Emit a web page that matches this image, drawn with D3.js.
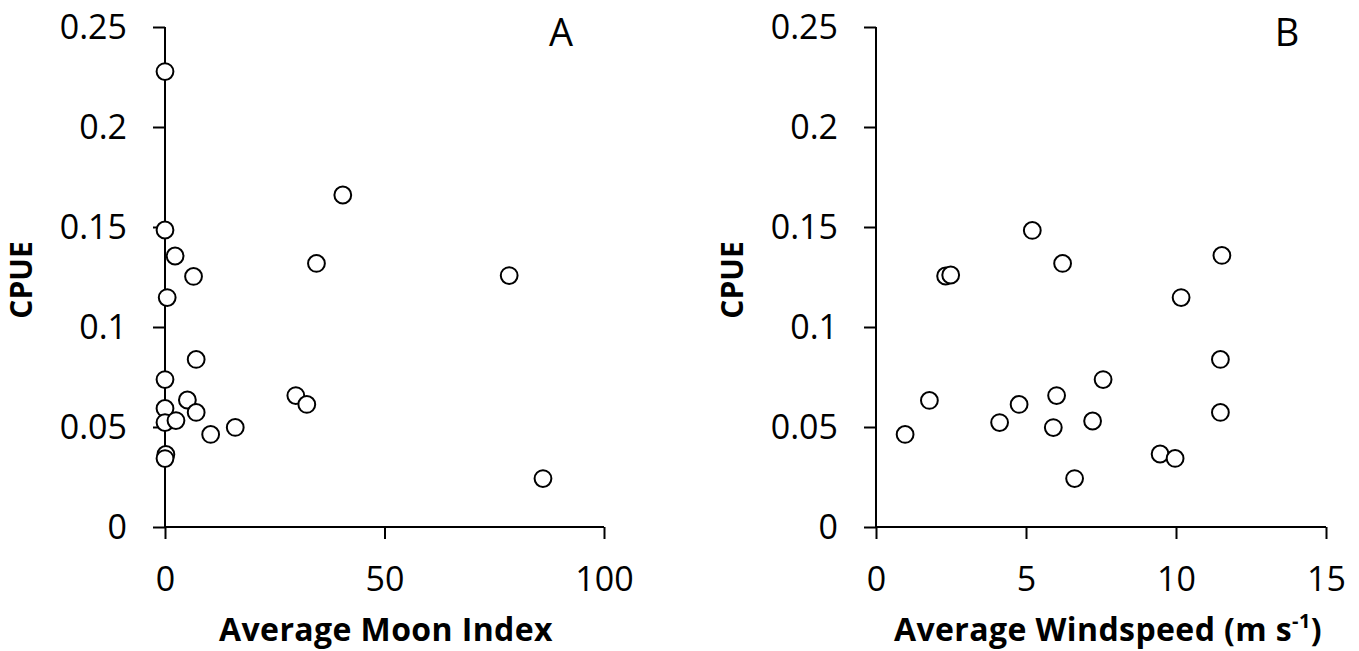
<!DOCTYPE html>
<html>
<head>
<meta charset="utf-8">
<script src="https://cdn.jsdelivr.net/npm/d3@7"></script>
<style>
  html, body { margin: 0; padding: 0; background: #fff; }
  svg { display: block; }
  text { font-family: "Open Sans", "Noto Sans", sans-serif; fill: #000; }
</style>
</head>
<body>
<svg id="chart" width="1359" height="651"></svg>
<script>
// Panel A: Average Moon Index vs CPUE
const moonIndex = [0, 40.5, 0, 2.3, 34.5, 6.5, 78.4, 0.5, 7.1, 0, 5.1, 29.8, 32.3, 0, 7.1, 0, 2.5, 16.0, 10.4, 0.2, 0, 86.1];
const cpueA     = [0.2277, 0.166, 0.1485, 0.1355, 0.1318, 0.1253, 0.1257, 0.1147, 0.0838, 0.0737, 0.0635, 0.0657, 0.0613, 0.0593, 0.0573, 0.0522, 0.0532, 0.0498, 0.0463, 0.0363, 0.0342, 0.0242];

// Panel B: Average Windspeed vs CPUE
const windspeed = [5.21, 11.53, 6.22, 2.32, 2.49, 10.17, 11.48, 7.57, 1.78, 6.02, 4.77, 11.48, 7.22, 4.12, 5.91, 0.97, 9.47, 9.97, 6.62];
const cpueB     = [0.1483, 0.1358, 0.1318, 0.1255, 0.126, 0.1147, 0.0838, 0.0737, 0.0633, 0.0657, 0.0613, 0.0573, 0.053, 0.0522, 0.0497, 0.0463, 0.0365, 0.0343, 0.0242];

const yTicks = [0, 0.05, 0.1, 0.15, 0.2, 0.25];
const xTicksA = [0, 50, 100];
const xTicksB = [0, 5, 10, 15];

const svg = d3.select("#chart");

function panel(opts) {
  const x = d3.scaleLinear().domain(opts.xDomain).range([opts.x0, opts.x1]);
  const y = d3.scaleLinear().domain([0, 0.25]).range([527, 27]);
  const g = svg.append("g");

  const yAxis = g.append("g")
    .attr("transform", `translate(${opts.x0},0)`)
    .call(d3.axisLeft(y).tickValues(yTicks).tickSize(12).tickPadding(26)
      .tickFormat(d => d === 0 ? "0" : String(+d.toFixed(2))));
  const xAxis = g.append("g")
    .attr("transform", `translate(0,527)`)
    .call(d3.axisBottom(x).tickValues(opts.xTicks).tickSize(12).tickPadding(26).tickFormat(d3.format("d")));

  [yAxis, xAxis].forEach(a => {
    a.select(".domain").attr("stroke", "#000").attr("stroke-width", 2)
      .attr("d", a === yAxis ? `M0,${y(0)}V${y(0.25)}` : `M${opts.x0},0H${opts.x1}`);
    a.selectAll(".tick line").attr("stroke", "#000").attr("stroke-width", 2);
    a.selectAll(".tick text").style("font-size", "34px").attr("fill", "#000");
  });
  yAxis.selectAll(".tick text").attr("dy", "0.34em");
  xAxis.selectAll(".tick text").attr("dy", "0.75em");

  g.selectAll("circle.pt")
    .data(opts.xs.map((v, i) => [v, opts.ys[i]]))
    .join("circle")
    .attr("class", "pt")
    .attr("cx", d => x(d[0]))
    .attr("cy", d => y(d[1]))
    .attr("r", 8.4)
    .attr("fill", "#fff")
    .attr("stroke", "#000")
    .attr("stroke-width", 2);

  g.append("text")
    .attr("transform", `translate(${opts.x0 - 133},280) rotate(-90)`)
    .attr("text-anchor", "middle")
    .style("font-size", "30px").style("font-weight", "bold")
    .text("CPUE");

  const title = g.append("text")
    .attr("x", opts.titleX).attr("y", 641)
    .attr("text-anchor", "middle")
    .style("font-size", "32px").style("font-weight", "bold")
    .style("letter-spacing", "0.4px");
  title.append("tspan").text(opts.title);
  if (opts.sup) {
    title.append("tspan").text("-1").attr("dy", -13).style("font-size", "20px");
    title.append("tspan").text(")").attr("dy", 13);
  }

  g.append("text")
    .attr("x", opts.letterX).attr("y", 46)
    .attr("text-anchor", "middle")
    .style("font-size", "38px")
    .text(opts.letter);
}

panel({ x0: 165, x1: 604, xDomain: [0, 100], xTicks: xTicksA, xs: moonIndex, ys: cpueA,
        title: "Average Moon Index", titleX: 386, letter: "A", letterX: 561 });
panel({ x0: 876, x1: 1326, xDomain: [0, 15], xTicks: xTicksB, xs: windspeed, ys: cpueB,
        title: "Average Windspeed (m s", sup: true, titleX: 1108, letter: "B", letterX: 1287 });
</script>
</body>
</html>
